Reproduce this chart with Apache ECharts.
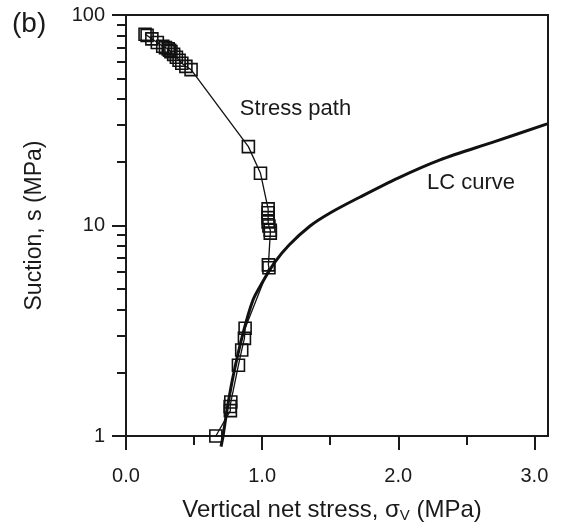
<!DOCTYPE html>
<html>
<head>
<meta charset="utf-8">
<script src="https://cdn.jsdelivr.net/npm/echarts@6/dist/echarts.min.js"></script>
<style>
html,body{margin:0;padding:0;background:#fff;}
#chart{width:561px;height:523px;}
</style>
</head>
<body>
<div id="chart"></div>
<script>
// ---- data ----
var xTicks = [0, 1, 2, 3];
var xMinorTicks = [0.5, 1.5, 2.5];
var yTicks = [1, 10, 100];

// Stress path (vertical net stress, suction)
var pathStress = [0.14, 0.155, 0.19, 0.23, 0.27, 0.29, 0.31, 0.32, 0.33, 0.35, 0.37, 0.39, 0.41, 0.44, 0.478,
                  0.899, 0.988,
                  1.044, 1.044, 1.044, 1.044, 1.05, 1.06, 1.06,
                  1.046, 1.05,
                  0.875, 0.87, 0.85, 0.826,
                  0.77, 0.765, 0.767,
                  0.66];
var pathSuction = [81, 80, 77, 74, 71, 70, 69, 68, 67, 65, 63, 61, 59, 57, 55,
                   23.7, 17.7,
                   12.0, 11.5, 10.9, 10.4, 9.95, 9.5, 9.2,
                   6.5, 6.3,
                   3.25, 2.91, 2.56, 2.17,
                   1.45, 1.38, 1.32,
                   1.0];

// LC curve
var lcStress = [0.698, 0.713, 0.742, 0.786, 0.86, 0.933, 0.999, 1.095, 1.198, 1.352, 1.499, 1.72, 1.998, 2.307, 2.697, 3.094];
var lcSuction = [0.89, 1.0, 1.33, 1.91, 3.08, 4.43, 5.33, 6.71, 8.08, 9.95, 11.47, 13.66, 16.8, 20.5, 24.9, 30.4];

function zip(a, b) { return a.map(function (v, i) { return [v, b[i]]; }); }

var FONT = '"Liberation Sans", Arial, Helvetica, sans-serif';
var chart = echarts.init(document.getElementById('chart'), null, {renderer: 'canvas'});

var option = {
  backgroundColor: '#fff',
  animation: false,
  textStyle: {fontFamily: FONT, color: '#000'},
  grid: {left: 126, top: 15, right: 13, bottom: 87, containLabel: false, outerBoundsMode: 'none',
         show: true, borderColor: '#1a1a1a', borderWidth: 2, backgroundColor: 'transparent'},
  xAxis: [{
    type: 'value', min: 0, max: 3.1, interval: 1,
    axisLine: {show: true, onZero: false, lineStyle: {color: '#1a1a1a', width: 2}},
    axisTick: {show: true, inside: false, length: 14, customValues: xTicks, lineStyle: {color: '#1a1a1a', width: 2}},
    axisLabel: {customValues: xTicks, margin: 30, fontSize: 20, color: '#1a1a1a', fontFamily: FONT,
                formatter: function (v) { return Number(v).toFixed(1); }},
    splitLine: {show: false},
    name: '{a|Vertical net stress, σ}{s|V}{a| (MPa)}',
    nameLocation: 'middle', nameGap: 62,
    nameTextStyle: {padding: [0, 10, 0, 0], rich: {
      a: {fontSize: 24, fontFamily: FONT, color: '#1a1a1a'},
      s: {fontSize: 15, fontFamily: FONT, color: '#1a1a1a', verticalAlign: 'bottom', padding: [10, 0, 0, 0]}
    }}
  }, {
    type: 'value', min: 0, max: 3.1, position: 'bottom',
    axisLine: {show: false},
    axisTick: {show: true, inside: false, length: 9, customValues: xMinorTicks, lineStyle: {color: '#1a1a1a', width: 2}},
    axisLabel: {show: false},
    splitLine: {show: false}
  }],
  yAxis: [{
    type: 'log', logBase: 10, min: 1, max: 100,
    axisLine: {show: true, lineStyle: {color: '#1a1a1a', width: 2}},
    axisTick: {show: true, inside: false, length: 14, lineStyle: {color: '#1a1a1a', width: 2}},
    minorTick: {show: true, splitNumber: 9, length: 9, lineStyle: {color: '#1a1a1a', width: 2}},
    axisLabel: {margin: 21, fontSize: 20, color: '#1a1a1a', fontFamily: FONT,
                formatter: function (v) { return String(Math.round(v)); }},
    splitLine: {show: false},
    minorSplitLine: {show: false},
    name: 'Suction, s (MPa)',
    nameLocation: 'middle', nameGap: 80, nameRotate: 90,
    nameTextStyle: {fontSize: 23, fontFamily: FONT, color: '#1a1a1a'}
  }],
  graphic: [{
    type: 'text', left: 12, top: 10,
    style: {text: '(b)', font: '28px ' + FONT, fill: '#1a1a1a'}
  }],
  series: [{
    type: 'line', name: 'LC curve', xAxisIndex: 0, yAxisIndex: 0,
    data: zip(lcStress, lcSuction),
    showSymbol: false, symbol: 'none', smooth: 0.3, clip: false,
    lineStyle: {color: '#111', width: 3},
    z: 3,
    markPoint: {
      symbol: 'circle', symbolSize: 0, silent: true,
      label: {show: true, position: 'inside', fontSize: 22, fontFamily: FONT, color: '#1a1a1a',
              formatter: function (p) { return p.name; }},
      data: [
        {name: 'LC curve', coord: [2.534, 16.0]},
        {name: 'Stress path', coord: [1.245, 35.6]}
      ]
    }
  }, {
    type: 'line', name: 'Stress path', xAxisIndex: 0, yAxisIndex: 0,
    data: zip(pathStress, pathSuction),
    symbol: 'rect', symbolSize: 12, showSymbol: true, clip: false,
    lineStyle: {color: '#111', width: 1.3},
    itemStyle: {color: 'rgba(0,0,0,0)', borderColor: '#111', borderWidth: 1.6},
    z: 4
  }]
};
chart.setOption(option);
</script>
</body>
</html>
